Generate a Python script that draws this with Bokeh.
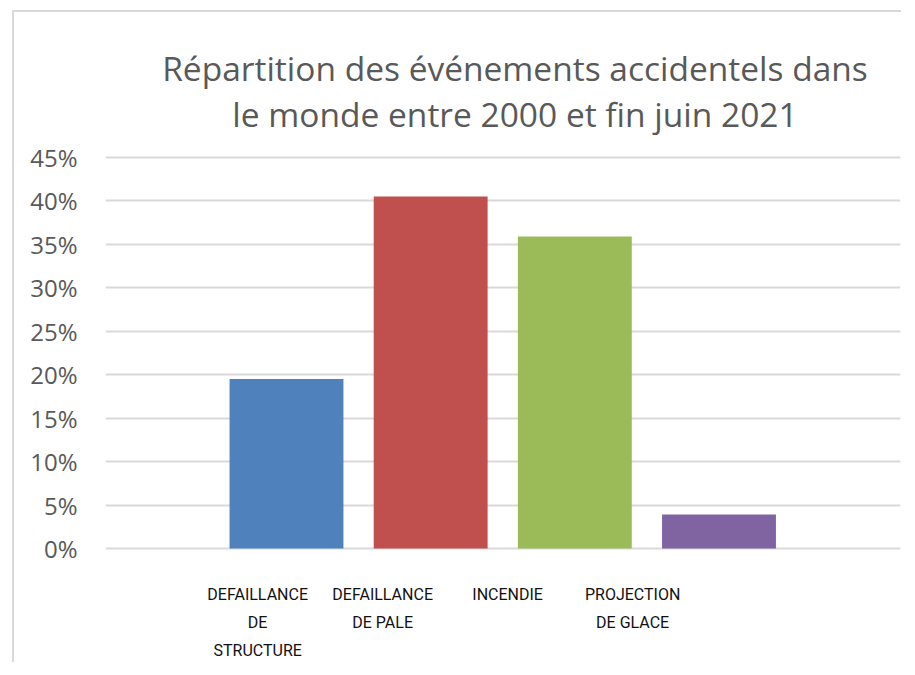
from bokeh.plotting import figure
from bokeh.models import Range1d, FixedTicker, NumeralTickFormatter, ColumnDataSource
from bokeh.core.properties import value
from bokeh.embed import file_html
from bokeh.resources import INLINE

# ---- data ----
title_lines = ["Répartition des événements accidentels dans",
               "le monde entre 2000 et fin juin 2021"]
categories = ["DEFAILLANCE\nDE\nSTRUCTURE", "DEFAILLANCE\nDE PALE", "INCENDIE", "PROJECTION\nDE GLACE"]
shares = [0.195, 0.405, 0.359, 0.039]
colors = ["#4F81BD", "#C0504D", "#9BBB59", "#8064A2"]
y_ticks = [0.0, 0.05, 0.10, 0.15, 0.20, 0.25, 0.30, 0.35, 0.40, 0.45]

# ---- layout constants (pixels) ----
FRAME_W, FRAME_H = 795, 650
LEFT, RIGHT, BOTTOM = 91, 3, 2
X0, X1 = -0.2555, 5.259
Y0 = -0.1312
PX_PER_Y = 391 / 0.45                 # 45% spans 391 px
TOP_PAD_PX = 145                      # space above the 45% line inside the frame
Y1 = 0.45 + TOP_PAD_PX / PX_PER_Y
PX_PER_X = FRAME_W / (X1 - X0)
BAR_W = 0.79
LABEL_START, LABEL_STEP = 0.80, 0.867
LABEL_TOP = -0.042
TITLE_CX_PX = 409.5                   # title centre, px from frame left
TITLE_BASE_PX = [55, 101]             # title baselines, px from frame top

xs = list(range(1, len(categories) + 1))
src = ColumnDataSource(dict(x=xs, top=shares, color=colors))
lab = ColumnDataSource(dict(x=[LABEL_START + LABEL_STEP * i for i in range(len(categories))],
                            y=[LABEL_TOP] * len(categories), text=categories))
ttl = ColumnDataSource(dict(x=[X0 + TITLE_CX_PX / PX_PER_X] * len(title_lines),
                            y=[Y1 - b / PX_PER_Y for b in TITLE_BASE_PX],
                            text=title_lines))

p = figure(width=LEFT + FRAME_W + RIGHT, height=FRAME_H + BOTTOM,
           output_backend="svg", toolbar_location=None,
           x_range=Range1d(X0, X1), y_range=Range1d(Y0, Y1),
           x_axis_location=None,
           min_border_left=LEFT, min_border_right=RIGHT,
           min_border_top=0, min_border_bottom=BOTTOM)
p.styles = {"border-left": "2px solid #d9d9d9", "border-top": "2px solid #d9d9d9",
            "margin-left": "12px", "margin-top": "10px"}
p.outline_line_color = None
p.background_fill_color = "white"
p.border_fill_color = "white"

p.xgrid.visible = False
p.ygrid.ticker = FixedTicker(ticks=y_ticks)
p.ygrid.grid_line_color = "#d9d9d9"
p.ygrid.grid_line_width = 2

ax = p.yaxis[0]
ax.ticker = FixedTicker(ticks=y_ticks)
ax.formatter = NumeralTickFormatter(format="0%")
ax.axis_line_color = None
ax.major_tick_line_color = None
ax.minor_tick_line_color = None
ax.major_tick_out = 0
ax.major_tick_in = 0
ax.major_label_standoff = 28
ax.major_label_text_font = "Open Sans"
ax.major_label_text_font_size = "24px"
ax.major_label_text_color = "#595959"

p.vbar(x="x", top="top", bottom=0, width=BAR_W, fill_color="color", line_color=None, source=src)

p.text(x="x", y="y", text="text", source=lab, text_align="center", text_baseline="top",
       text_font=value("Roboto"), text_font_size="16px", text_line_height=1.48,
       text_color="#111111")

p.text(x="x", y="y", text="text", source=ttl, text_align="center", text_baseline="alphabetic",
       text_font=value("Open Sans"), text_font_size="33.5px", text_color="#595959")

open("out.html", "w").write(file_html(p, INLINE))
